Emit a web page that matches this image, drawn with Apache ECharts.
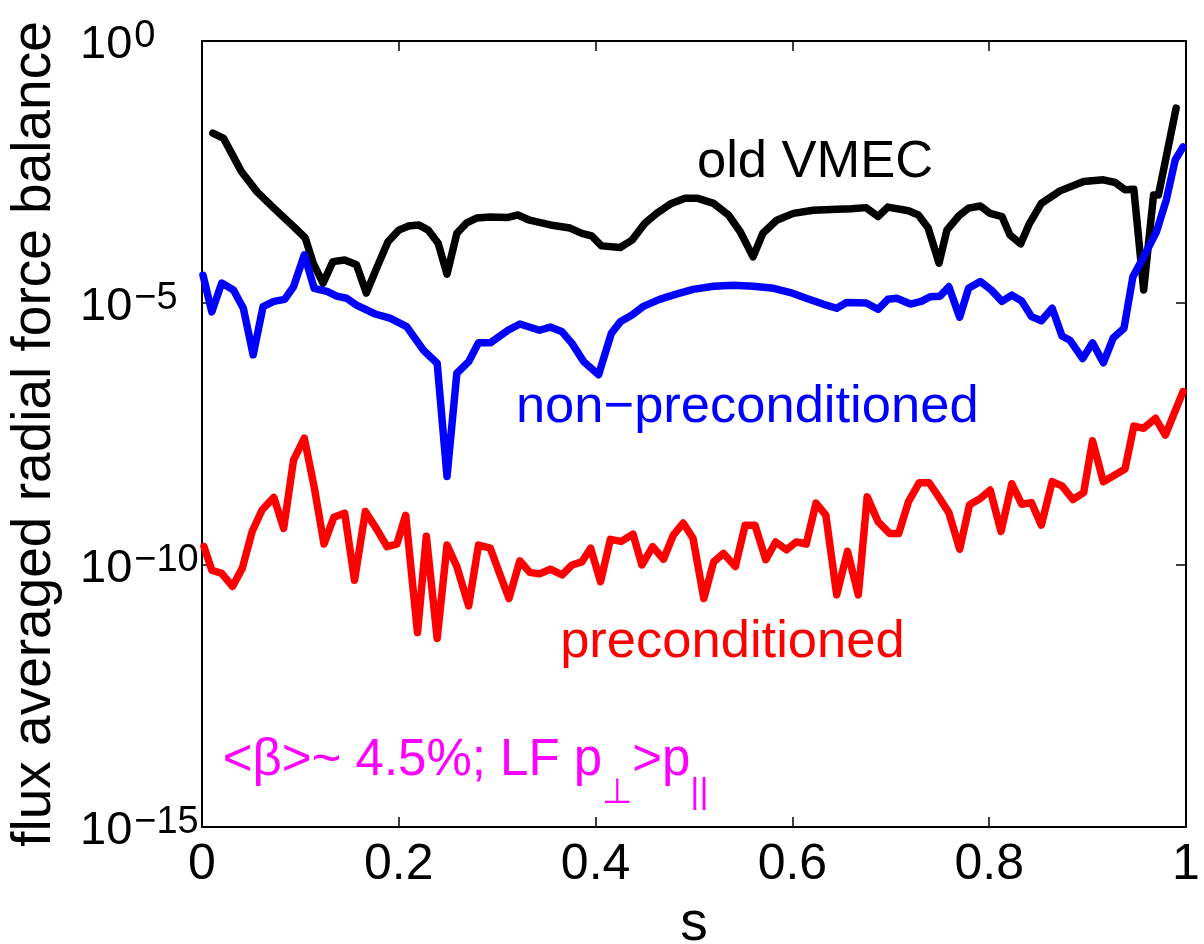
<!DOCTYPE html>
<html>
<head>
<meta charset="utf-8">
<title>Radial force balance residual</title>
<script src="https://cdn.jsdelivr.net/npm/echarts@6/dist/echarts.min.js"></script>
<style>
  html, body { margin: 0; padding: 0; background: #fff; }
  #chart { width: 1204px; height: 944px; }
</style>
</head>
<body>
<div id="chart"></div>
<script>
// Flux-surface averaged radial force balance residual versus s.
// Residuals are kept as log10 values.

const sOld = [0.011,0.022,0.030,0.040,0.056,0.073,0.093,0.105,0.113,0.123,
  0.133,0.145,0.157,0.167,0.178,0.189,0.200,0.210,0.220,0.230,
  0.240,0.249,0.259,0.269,0.279,0.293,0.310,0.321,0.333,0.354,
  0.374,0.386,0.396,0.406,0.425,0.437,0.450,0.462,0.477,0.491,
  0.503,0.520,0.535,0.547,0.560,0.570,0.584,0.601,0.621,0.645,
  0.660,0.675,0.687,0.697,0.718,0.728,0.738,0.749,0.757,0.769,
  0.779,0.791,0.801,0.813,0.821,0.832,0.841,0.853,0.872,0.896,
  0.916,0.928,0.938,0.947,0.957,0.967,0.972,0.990];
const logOld = [-1.76,-1.86,-2.14,-2.49,-2.88,-3.19,-3.54,-3.76,-4.24,-4.62,
  -4.21,-4.18,-4.27,-4.81,-4.31,-3.83,-3.61,-3.53,-3.51,-3.61,
  -3.86,-4.45,-3.67,-3.47,-3.38,-3.36,-3.37,-3.32,-3.42,-3.51,
  -3.57,-3.67,-3.72,-3.91,-3.94,-3.80,-3.48,-3.29,-3.10,-3.00,
  -3.00,-3.10,-3.32,-3.64,-4.12,-3.67,-3.42,-3.29,-3.23,-3.21,
  -3.20,-3.18,-3.35,-3.17,-3.24,-3.32,-3.57,-4.24,-3.61,-3.34,
  -3.19,-3.15,-3.29,-3.35,-3.70,-3.87,-3.48,-3.10,-2.86,-2.68,
  -2.65,-2.70,-2.84,-2.83,-4.75,-2.94,-2.94,-1.28];

const sNon = [0.001,0.010,0.020,0.032,0.042,0.052,0.062,0.073,0.084,0.093,
  0.104,0.114,0.127,0.137,0.147,0.157,0.176,0.191,0.208,0.225,
  0.239,0.249,0.259,0.271,0.281,0.293,0.311,0.323,0.343,0.354,
  0.366,0.376,0.388,0.403,0.416,0.425,0.437,0.448,0.465,0.482,
  0.499,0.520,0.540,0.560,0.581,0.598,0.614,0.631,0.645,0.655,
  0.675,0.687,0.697,0.706,0.720,0.731,0.740,0.750,0.759,0.770,
  0.779,0.791,0.802,0.813,0.823,0.833,0.843,0.853,0.864,0.874,
  0.882,0.895,0.905,0.916,0.926,0.937,0.946,0.957,0.970,0.980,
  0.989,0.997];
const logNon = [-4.47,-5.17,-4.62,-4.75,-5.10,-5.99,-5.07,-4.97,-4.93,-4.69,
  -4.08,-4.72,-4.78,-4.87,-4.91,-5.04,-5.21,-5.29,-5.45,-5.90,
  -6.15,-8.31,-6.34,-6.12,-5.76,-5.76,-5.52,-5.40,-5.52,-5.46,
  -5.55,-5.77,-6.12,-6.37,-5.58,-5.36,-5.23,-5.07,-4.93,-4.83,
  -4.74,-4.68,-4.66,-4.68,-4.72,-4.80,-4.91,-5.02,-5.10,-4.99,
  -5.00,-5.12,-4.93,-4.91,-5.02,-4.97,-4.88,-4.87,-4.69,-5.27,
  -4.72,-4.59,-4.75,-4.97,-4.85,-4.96,-5.26,-5.34,-5.10,-5.63,
  -5.71,-6.06,-5.76,-6.14,-5.67,-5.48,-4.50,-4.12,-3.64,-3.03,
  -2.27,-2.02];

const sPre = [0.002,0.010,0.020,0.031,0.041,0.051,0.061,0.073,0.083,0.093,
  0.104,0.114,0.124,0.134,0.145,0.155,0.166,0.178,0.188,0.198,
  0.207,0.219,0.228,0.239,0.249,0.259,0.271,0.281,0.293,0.303,
  0.312,0.323,0.333,0.343,0.354,0.366,0.376,0.386,0.395,0.405,
  0.415,0.426,0.438,0.447,0.458,0.469,0.479,0.489,0.499,0.510,
  0.520,0.530,0.542,0.552,0.562,0.573,0.583,0.594,0.604,0.614,
  0.624,0.634,0.645,0.656,0.667,0.676,0.687,0.699,0.708,0.718,
  0.729,0.739,0.749,0.759,0.770,0.780,0.791,0.801,0.812,0.823,
  0.833,0.843,0.853,0.864,0.874,0.885,0.896,0.905,0.916,0.926,
  0.938,0.947,0.957,0.969,0.979,0.997];
const logPre = [-9.65,-10.10,-10.16,-10.41,-10.06,-9.36,-8.95,-8.71,-9.30,-8.00,
  -7.58,-8.51,-9.60,-9.09,-9.01,-10.29,-8.98,-9.33,-9.65,-9.60,
  -9.05,-11.29,-9.45,-11.40,-9.62,-10.03,-10.78,-9.62,-9.68,-10.19,
  -10.64,-9.92,-10.14,-10.17,-10.08,-10.19,-10.00,-9.94,-9.68,-10.32,
  -9.51,-9.55,-9.41,-10.00,-9.65,-9.89,-9.43,-9.20,-9.49,-10.64,
  -9.94,-9.78,-10.03,-9.24,-9.24,-9.90,-9.56,-9.71,-9.56,-9.60,
  -8.82,-9.05,-10.57,-9.74,-10.57,-8.70,-9.17,-9.40,-9.40,-8.79,
  -8.43,-8.43,-8.71,-9.00,-9.70,-8.85,-8.73,-8.57,-9.36,-8.45,
  -8.84,-8.81,-9.24,-8.41,-8.49,-8.75,-8.62,-7.63,-8.41,-8.30,
  -8.17,-7.35,-7.39,-7.20,-7.52,-6.69];

// x ticks (s) and y decades (exponents)
const xTicks = [0, 0.2, 0.4, 0.6, 0.8, 1];
const yDecades = [-15, -10, -5, 0];

// in-plot labels: text, s, log10 anchor, colour
const noteText  = ['old VMEC', 'non\u2212preconditioned', 'preconditioned'];
const noteS     = [0.503, 0.319, 0.364];
const noteLog   = [-2.32, -7.00, -11.48];
const noteColor = ['#000000', '#0000ff', '#ff0000'];

const FONT = '"Liberation Sans", Arial, Helvetica, sans-serif';

function pairs(s, lg) {
  return s.map((x, i) => [x, Math.pow(10, lg[i])]);
}

const chart = echarts.init(document.getElementById('chart'));

function lineSeries(name, s, lg, color) {
  return {
    name: name,
    type: 'line',
    data: pairs(s, lg),
    showSymbol: false,
    symbol: 'none',
    smooth: false,
    animation: false,
    lineStyle: { color: color, width: 7.5, cap: 'round', join: 'round' },
    emphasis: { disabled: true }
  };
}

const frameLine = { show: true, onZero: false, lineStyle: { color: '#000', width: 2 } };
const frameTick = { show: true, inside: true, length: 10, lineStyle: { color: '#000', width: 1.5 } };

chart.setOption({
  backgroundColor: '#ffffff',
  animation: false,
  grid: {
    left: 202, right: 18, top: 41, bottom: 117,
    containLabel: false, outerBoundsMode: 'none'
  },
  xAxis: [{
    type: 'value', min: xTicks[0], max: xTicks[xTicks.length - 1], interval: 0.2,
    position: 'bottom',
    name: 's', nameLocation: 'middle', nameGap: 70,
    nameTextStyle: { fontFamily: FONT, fontSize: 55, color: '#000' },
    axisLine: frameLine, axisTick: frameTick,
    axisLabel: {
      fontFamily: FONT, fontSize: 50, color: '#000', margin: 13,
      formatter: v => String(+v.toFixed(1))
    },
    splitLine: { show: false }
  }, {
    type: 'value', min: xTicks[0], max: xTicks[xTicks.length - 1], interval: 0.2,
    position: 'top',
    axisLine: frameLine, axisTick: frameTick,
    axisLabel: { show: false }, splitLine: { show: false }
  }],
  yAxis: [{
    type: 'log', logBase: 10,
    min: Math.pow(10, yDecades[0]), max: Math.pow(10, yDecades[yDecades.length - 1]),
    interval: 5,
    position: 'left',
    name: 'flux averaged radial force balance', nameLocation: 'middle', nameGap: 140,
    nameRotate: 90,
    nameTextStyle: { fontFamily: FONT, fontSize: 55, color: '#000' },
    axisLine: frameLine, axisTick: frameTick,
    axisLabel: {
      align: 'left', margin: 122, color: '#000',
      formatter: v => {
        const e = Math.round(Math.log10(v));
        return '{b|10}{e|' + (e < 0 ? '\u2212' + (-e) : String(e)) + '}';
      },
      rich: {
        // base sits on the tick, exponent raised above it
        b: { fontFamily: FONT, fontSize: 47, lineHeight: 47, color: '#000',
             verticalAlign: 'top', padding: [4, 0, 20, 0] },
        e: { fontFamily: FONT, fontSize: 38, lineHeight: 30, color: '#000',
             verticalAlign: 'top', padding: [0, 0, 0, 2] }
      }
    },
    splitLine: { show: false }, minorTick: { show: false }
  }, {
    type: 'log', logBase: 10,
    min: Math.pow(10, yDecades[0]), max: Math.pow(10, yDecades[yDecades.length - 1]),
    interval: 5,
    position: 'right',
    axisLine: frameLine, axisTick: frameTick,
    axisLabel: { show: false }, splitLine: { show: false }
  }],
  series: [
    lineSeries('old VMEC', sOld, logOld, '#000000'),
    lineSeries('non-preconditioned', sNon, logNon, '#0000ff'),
    lineSeries('preconditioned', sPre, logPre, '#ff0000')
  ]
});

// text annotations placed in data coordinates
function px(s, lg) {
  return chart.convertToPixel({ xAxisIndex: 0, yAxisIndex: 0 }, [s, Math.pow(10, lg)]);
}

const graphics = noteText.map((t, i) => {
  const p = px(noteS[i], noteLog[i]);
  return {
    type: 'text', x: p[0], y: p[1], silent: true, z: 100,
    style: {
      text: t, fill: noteColor[i],
      font: '52.5px ' + FONT,
      textAlign: 'left', textVerticalAlign: 'middle'
    }
  };
});

const betaPos = px(0.021, -13.26);
graphics.push({
  type: 'text', x: betaPos[0], y: betaPos[1], silent: true, z: 100,
  style: {
    text: '{m|<\u03b2>~ 4.5%; LF p}{s|\u22a5}{m|>p}{s|||}',
    textAlign: 'left', textVerticalAlign: 'top',
    rich: {
      m: { fontFamily: FONT, fontSize: 51, lineHeight: 51, fill: '#ff00ff',
           verticalAlign: 'top' },
      s: { fontFamily: FONT, fontSize: 35, lineHeight: 35, fill: '#ff00ff',
           verticalAlign: 'top', padding: [40, 0, 0, 0] }
    }
  }
});

chart.setOption({ graphic: graphics });
</script>
</body>
</html>
